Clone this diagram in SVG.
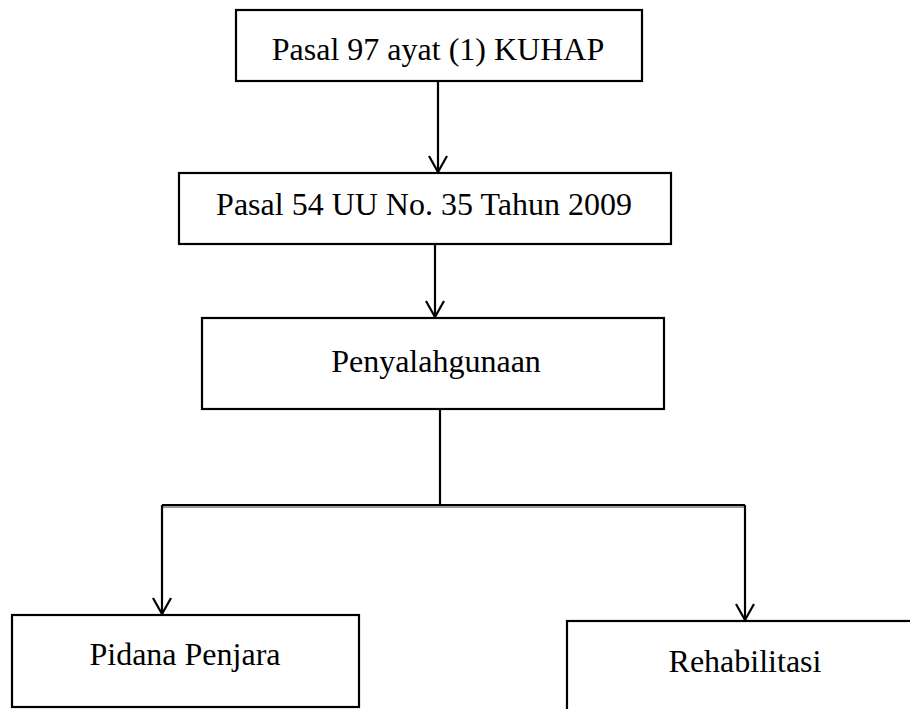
<svg xmlns="http://www.w3.org/2000/svg" width="910" height="709" viewBox="0 0 910 709">
<style>
.box{fill:#fff;stroke:#000;stroke-width:2.2}
.t{font-family:"Liberation Serif","Times New Roman",serif;font-size:32px;fill:#000;text-anchor:middle}
.ln{stroke:#000;stroke-width:2.2;fill:none}
.sh{stroke:#999;stroke-width:2;fill:none}
</style>
<defs>
<marker id="ah" markerWidth="20" markerHeight="20" refX="18" refY="10" markerUnits="userSpaceOnUse" orient="auto" viewBox="0 0 20 20">
<path d="M2,1 L18,10 L2,19" fill="none" stroke="#000" stroke-width="2.2"/>
</marker>
</defs>
<rect width="910" height="709" fill="#fff"/>
<g id="connectors">
<line class="ln" x1="438" y1="81" x2="438" y2="172" marker-end="url(#ah)"/>
<line class="ln" x1="435" y1="245" x2="435" y2="317" marker-end="url(#ah)"/>
<line class="ln" x1="440" y1="410" x2="440" y2="505"/>
<line class="sh" x1="162" y1="507" x2="745" y2="507"/>
<line class="ln" x1="162" y1="505" x2="745" y2="505"/>
<line class="ln" x1="162" y1="505" x2="162" y2="614" marker-end="url(#ah)"/>
<line class="ln" x1="745" y1="505" x2="745" y2="620" marker-end="url(#ah)"/>
</g>
<g id="n1">
<rect class="box" x="236" y="10" width="406" height="71"/>
<text class="t" x="438" y="60">Pasal 97 ayat (1) KUHAP</text>
</g>
<g id="n2">
<rect class="box" x="179" y="173" width="492" height="71"/>
<text class="t" x="424" y="215">Pasal 54 UU No. 35 Tahun 2009</text>
</g>
<g id="n3">
<rect class="box" x="202" y="318" width="462" height="91"/>
<text class="t" x="436" y="372">Penyalahgunaan</text>
</g>
<g id="n4">
<rect class="box" x="12" y="615" width="347" height="92"/>
<text class="t" x="185" y="665">Pidana Penjara</text>
</g>
<g id="n5">
<rect class="box" x="567" y="621" width="350" height="100"/>
<text class="t" x="745" y="672">Rehabilitasi</text>
</g>
</svg>
